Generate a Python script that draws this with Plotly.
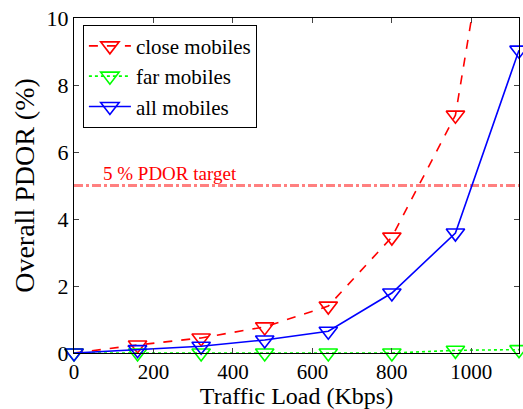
import plotly.graph_objects as go

load = [0, 160, 320, 480, 640, 800, 960, 1120]
close_mobiles = [0.0, 0.24, 0.45, 0.78, 1.4, 3.46, 7.1, 18.5]
far_mobiles = [0.0, 0.0, 0.0, 0.0, 0.0, 0.0, 0.08, 0.1]
all_mobiles = [0.0, 0.1, 0.2, 0.39, 0.65, 1.79, 3.58, 9.04]
target = 5
x_ticks = [0, 200, 400, 600, 800, 1000]
y_ticks = [0, 2, 4, 6, 8, 10]

FONT = "Liberation Serif"
fig = go.Figure()

marker = dict(symbol="triangle-down-open", size=16, line=dict(width=1.6))

fig.add_trace(go.Scatter(
    x=load, y=close_mobiles, name="close mobiles", mode="lines+markers",
    line=dict(color="#FF0000", width=1.6, dash="dash"),
    marker=dict(color="#FF0000", **marker), cliponaxis=True))
fig.add_trace(go.Scatter(
    x=load, y=far_mobiles, name="far mobiles", mode="lines+markers",
    line=dict(color="#00FF00", width=1.6, dash="dot"),
    marker=dict(color="#00FF00", **marker), cliponaxis=False))
fig.add_trace(go.Scatter(
    x=load, y=all_mobiles, name="all mobiles", mode="lines+markers",
    line=dict(color="#0000FF", width=1.6),
    marker=dict(color="#0000FF", **marker), cliponaxis=False))

fig.add_shape(type="line", xref="paper", x0=0, x1=1, yref="y", y0=target, y1=target,
              line=dict(color="#FF8080", width=3, dash="dashdot"), layer="below")
fig.add_annotation(x=241, y=target, xref="x", yref="y", text="5 % PDOR target",
                   showarrow=False, yanchor="bottom", yshift=0,
                   font=dict(family=FONT, size=19, color="#FF0000"))

fig.update_layout(
    width=523, height=409,
    margin=dict(l=74, r=4, t=18, b=56, autoexpand=False),
    paper_bgcolor="white", plot_bgcolor="white",
    font=dict(family=FONT, size=20, color="black"),
    showlegend=True,
    legend=dict(x=0.02, y=0.98, xanchor="left", yanchor="top",
                bgcolor="white", bordercolor="black", borderwidth=1,
                font=dict(family=FONT, size=21), tracegroupgap=0,
                itemwidth=42),
)
fig.update_xaxes(range=[0, 1120], tickvals=x_ticks, ticks="inside", ticklen=5,
                 showline=True, linecolor="black", linewidth=1, mirror="ticks",
                 showgrid=False, zeroline=False, automargin=False,
                 title=dict(text="Traffic Load (Kbps)", font=dict(size=24), standoff=1),
                 tickfont=dict(size=21))
fig.update_yaxes(range=[0, 10], tickvals=y_ticks, ticks="inside", ticklen=5,
                 showline=True, linecolor="black", linewidth=1, mirror="ticks",
                 showgrid=False, zeroline=False, automargin=False,
                 title=dict(text="Overall PDOR (%)", font=dict(size=28), standoff=3),
                 tickfont=dict(size=22))

fig.write_html("out.html", config={"displayModeBar": False},
               post_script="document.body.style.margin='0';")
